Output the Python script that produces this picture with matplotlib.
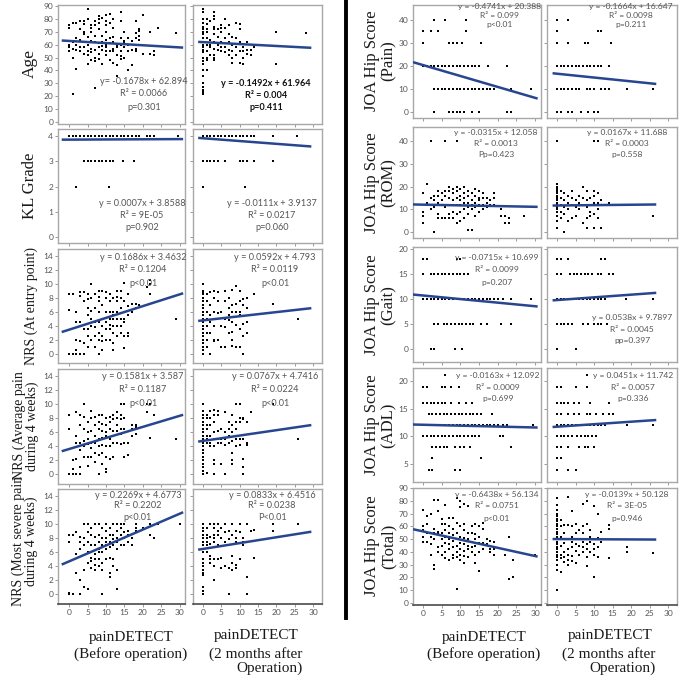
import matplotlib
matplotlib.use("Agg")
import matplotlib.pyplot as plt

# ---------------- DATA ----------------
# x -> list of y  (painDETECT score -> outcome)
age_pre = {0: [75, 73, 58, 55, 60], 1: [77, 57, 50, 62, 22], 2: [77, 60, 65, 41, 56],
           3: [78, 55, 58, 64, 72], 4: [76, 68, 70, 58, 53, 62, 78], 5: [88, 80, 66, 60, 55, 52, 45],
           6: [73, 70, 63, 57, 54, 48, 75], 7: [78, 75, 67, 56, 50, 47, 26, 62],
           8: [82, 80, 77, 72, 58, 53, 49, 61], 9: [81, 67, 62, 56, 45, 59],
           10: [78, 75, 70, 64, 60, 58, 55, 52, 83], 11: [84, 77, 65, 61, 55, 48],
           12: [80, 73, 66, 57, 55, 46, 62], 13: [60, 58, 52, 44, 36], 14: [85, 78, 65, 60, 55, 51, 49],
           15: [70, 62, 58, 50, 63], 16: [65, 60, 55, 40], 17: [63, 44, 56], 18: [78, 69, 65, 57, 55],
           19: [72, 71, 67, 64], 20: [83, 53], 22: [70, 53], 23: [55, 52], 24: [73], 29: [69]}
age_post = {0: [88, 85, 80, 77, 74, 72, 70, 68, 65, 62, 60, 58, 56, 54, 50, 47, 45, 40, 36, 30, 27, 25, 23, 22],
            1: [80, 76, 72, 70, 65, 60, 55, 50, 48, 40], 2: [78, 64, 60, 58, 52],
            3: [85, 82, 80, 74, 72, 68, 62, 57, 52, 50, 48], 4: [72, 66, 60, 56],
            5: [75, 73, 70, 62, 58, 55], 6: [80, 73, 65, 58, 54], 7: [75, 68, 62, 56, 52],
            8: [66, 60, 55, 50, 46], 9: [77, 65, 58, 52], 10: [76, 72, 62, 55, 46],
            11: [58, 55, 50, 45], 12: [62, 56, 53], 13: [56, 52], 14: [58], 20: [70, 45], 28: [69]}

# y -> list of x  (discrete outcome levels)
kl_pre = {4: [0, 1, 2, 3, 4, 5, 6, 7, 8, 9, 10, 11, 12, 13, 14, 15, 16, 17, 18, 19, 21, 22, 23, 29.5],
          3: [4, 5, 6, 7, 8, 9, 10, 11, 12, 14.5, 17.5], 2: [2, 10.7]}
kl_post = {4: [0, 1, 2, 3, 4, 5, 6, 7, 8, 9, 10, 11, 12, 13, 14, 19, 25.5],
           3: [0, 1, 2, 3, 4, 6, 10, 11, 12, 14, 19], 2: [0, 11.5]}

nrs_entry_pre = {0: [0, 6.3, 8.5], 1: [0, 8.5], 2: [0, 0.5, 2, 6, 4.5], 3: [0, 1.8, 4.5, 8.8, 8.3],
                 4: [0, 3.5, 4.2, 7.5, 8.8, 1.5], 5: [1, 2.5, 3.5, 5.5, 6.5, 7.8, 8.5],
                 6: [2, 4, 5, 6.2, 8, 10], 7: [1, 2.5, 3.8, 4.5, 6.5, 8.5],
                 8: [0, 2, 3, 4.5, 6, 7.5, 9, 8.2], 9: [0.5, 2.5, 4, 5, 7, 9, 1.8],
                 10: [2, 3.5, 4.5, 6, 8, 8.8, 5.2], 11: [2, 3.5, 5, 6, 7.5, 8.5, 4.2],
                 12: [0.5, 1.5, 3, 4, 5.5, 6, 8, 5], 13: [2.5, 4, 5, 6, 7.5, 9, 8.2],
                 14: [3, 4, 5, 6.5, 8, 9, 5.8], 15: [2.5, 4.5, 5, 6, 7.5, 10.2, 0.8],
                 16: [2.5, 3, 6.8, 8.5, 5.6], 17: [6, 7.2], 18: [7.2, 6.5], 19: [7],
                 21: [9.6], 22: [10, 8.6, 10.5], 29: [5]}
nrs_entry_post = {0: [10, 9, 8.8, 8.5, 8, 7.5, 7, 6.5, 6, 5.5, 5, 4.5, 4, 3.5, 3, 2.5, 2, 1.5, 1, 0.5, 0],
                  1: [8.5, 7.5, 6, 5, 4, 3, 2, 1], 2: [8.8, 7, 5.5, 4.5, 3, 0],
                  3: [9, 8, 6, 5, 4, 2, 1.8], 4: [8.8, 7.5, 5.8, 2], 5: [6, 4, 1],
                  6: [9, 7.5, 5, 3.8, 1], 7: [8, 6.5, 5.5, 4.8, 3], 8: [9.2, 7, 6, 4.5, 3.2, 2, 1.2],
                  9: [9.7, 7.2, 6, 4.2, 1], 10: [9, 7.5, 6, 5.5, 3.5, 1], 11: [7.8, 7, 4.3, 2.5, 0],
                  12: [8, 6.5, 4.5, 3], 14: [8.6], 19: [7.2], 26: [5]}

nrs_avg_pre = {0: [0, 6.5, 8.5], 1: [0, 0.8, 2], 2: [0, 4.5, 5.5, 8.8, 2.2], 3: [1, 3.5, 4.5, 7, 8.5, 0],
               4: [2.5, 4, 4.8, 6.5, 8.2, 10], 5: [1.2, 2.5, 4.3, 5, 6, 7.5], 6: [2.5, 3.8, 4.5, 6.2, 8, 9],
               7: [1.8, 3, 4.5, 5.5, 7, 8.2], 8: [0, 2.8, 4, 5, 6.5, 7.5, 8.5],
               9: [1.5, 3, 4.2, 5.2, 6.2, 7.2, 8.5], 10: [0.8, 2.5, 4, 5.5, 6, 7, 8, 0.3],
               11: [2.2, 4, 5, 6.5, 7.5, 8.2], 12: [2.5, 4.5, 5.5, 6.2, 7.8, 8.5],
               13: [4.5, 6.2, 7, 8, 8.8], 14: [4.3, 5.8, 6.5, 7.8, 8.5, 10], 15: [2.5, 4.5, 6.5, 8, 10],
               16: [2.8, 4.5], 17: [5.5, 6.5, 7], 18: [5.8, 6.8, 7], 21: [8.8, 10], 22: [5.2, 10],
               23: [8.5], 29: [5]}
nrs_avg_post = {0: [10, 9, 8.5, 8, 7.5, 7, 6.5, 6, 5.5, 5, 4.5, 4, 3.5, 3, 2.5, 2, 1.5, 1, 0.5, 0],
                1: [8.5, 8, 7, 6.5, 5.5, 5, 4.5, 0.2], 2: [9, 8, 7, 5.5, 4.5, 4],
                3: [9.2, 8.5, 7.5, 6, 5, 4, 2, 1.5, 0], 4: [9, 8.5, 6.2, 5, 4.5], 5: [6.5, 5, 4.5, 1.5],
                6: [8.8, 6, 5, 4.2, 0], 7: [7.5, 6.5, 5.5, 4.5], 8: [8.5, 7, 6, 4.8, 3, 2, 1.5],
                9: [10, 7.5, 6.5, 5, 4], 10: [10, 8, 7.5, 5, 4.2], 11: [8, 7.8, 5, 2.2, 1, 0],
                12: [7.5, 4.5, 4.2], 13: [8.8], 19: [10], 26: [5]}

nrs_sev_pre = {0: [0, 0.2, 7.5, 8.5], 1: [8.5, 0], 2: [3, 5.8, 8.8], 3: [0, 6.5, 7.5, 8.2, 2],
               4: [1, 3.5, 7, 8, 10], 5: [0.8, 4.5, 6, 7.5, 8.8, 10], 6: [3.8, 4.8, 5.2, 6, 7, 8.5, 9.5],
               7: [3.5, 4.2, 5, 5.8, 7, 8.2, 10], 8: [4, 5, 6, 6.5, 7.5, 8.5, 10],
               9: [0, 3.5, 4.5, 6, 7, 8, 9.5], 10: [5, 6.5, 7, 7.5, 8, 9, 10],
               11: [2.5, 3, 5.2, 6.8, 7.5, 8.5, 9.5], 12: [4, 5, 7, 7.8, 8.5, 10],
               13: [0.7, 3.5, 6.5, 7.5, 8, 9, 10], 14: [7, 7.8, 8.5, 9.5, 10], 15: [7, 8, 8.8, 10],
               16: [7.5, 8.5, 9], 17: [7, 8], 18: [9, 9.5, 10], 20: [9.5], 22: [8.5, 10], 23: [8],
               24: [10], 30: [10]}
nrs_sev_post = {0: [10, 9.5, 9, 8.5, 8, 7.5, 7, 6.5, 6, 5, 4.5, 4, 3.5, 3, 2.8, 1, 0.5, 0],
                1: [9.5, 8.5, 8, 7.5, 7, 6], 2: [10, 8.2, 7.2, 5.5, 5, 4.5],
                3: [10, 9.5, 8.5, 8, 7.5, 5, 4, 2], 4: [10, 9, 8.5, 7, 5], 5: [9.5, 8, 5.2, 3.8],
                6: [10, 8.8, 7.5, 4], 7: [9, 7.8, 3.8, 0], 8: [10, 8.5, 5.5, 4.5, 3.5],
                9: [9, 8, 7.5, 4.2, 3.8], 10: [10, 8.8, 5], 11: [8, 7.5, 7], 12: [10, 7.5, 2.5, 0],
                13: [9], 14: [9.2, 5.2], 19: [10, 9], 26: [10]}

pain_pre = {40: [3, 6, 11.5], 35: [0, 2, 4, 11.5], 30: [0, 7, 8, 9, 10.5, 15.5],
            20: [0, 1, 2, 3, 4, 5, 6, 7, 8, 9, 10, 11, 12, 13, 14, 15, 17.5, 22.5],
            10: [3, 4, 5, 6, 7, 8, 9, 10, 11, 12, 13, 14, 15, 16, 17, 18, 19, 23.5, 29],
            0: [3, 7, 8, 9, 10, 11, 13, 15, 22.5, 23.5]}
pain_post = {40: [0, 3], 35: [0, 11, 12], 30: [0, 3, 7.5, 8.5, 14.5],
             20: [0, 1, 2, 3, 4, 5, 6, 7, 8, 9, 10, 11, 12, 14],
             10: [0, 1, 2, 3, 4, 5, 6, 8, 9, 10, 12, 13, 14, 19, 26],
             0: [0, 1, 3, 4, 6.5, 8.5, 10, 11]}

rom_pre = {0: [4, 7, 9, 17], 1: [13, 21], 2: [10, 15, 40], 3: [0, 11, 14, 16], 4: [6, 8, 13, 16, 18],
           5: [6, 12, 14, 17], 6: [6, 11, 16, 18, 40], 7: [6, 8, 12, 15, 18, 20],
           8: [6, 9, 12, 14, 17, 19], 9: [4, 8, 12, 15, 18, 20, 40], 10: [5, 9, 12, 14, 16, 19],
           11: [6, 10, 13, 15, 17, 20], 12: [1, 8, 11, 13, 16, 18], 13: [1, 10, 12, 14, 17],
           14: [7, 11, 13, 16, 19], 15: [9, 12, 14, 15, 18], 16: [10, 12, 15, 17], 17: [11, 13, 15],
           18: [12, 14], 19: [15, 17, 12], 21: [10, 7], 22: [7, 4], 23: [4, 6], 27: [7]}
rom_post = {0: [2, 5, 7, 9, 10, 11, 12, 13, 14, 15, 16, 17, 18, 19, 20, 21, 40],
            1: [6, 9, 12, 15, 18], 2: [8, 11, 14, 17, 0], 3: [5, 10, 13, 16], 4: [6, 12, 15, 18],
            5: [7, 11, 14], 6: [10, 13, 16], 7: [12, 15, 20, 4], 8: [2, 6, 11, 14, 18],
            9: [7, 9, 12, 15], 10: [2, 8, 13, 16, 18, 40], 11: [6, 10, 13, 17, 40], 12: [2, 12, 14],
            14: [13], 19: [12], 26: [7]}

gait_pre = {18: [0, 1, 9, 10], 15: [0, 2, 3, 4, 5, 6, 7, 8, 9, 10, 11, 12],
            10: [0, 1, 2, 3, 4, 5, 6, 7, 8, 9, 10, 11, 12, 13, 14, 15, 16, 17, 18, 19, 20, 21.5, 23.5, 29],
            5: [3, 4, 5.5, 6.5, 7.5, 8.5, 9.5, 10.5, 11.5, 12.5, 13.5, 15.5, 17, 21, 23.5],
            0: [2, 3, 8.5, 10.5]}
gait_post = {18: [0, 1, 3, 12, 13], 15: [0, 1, 3.5, 4.5, 5.5, 6.5, 7.5, 8.5, 9.5, 11, 12, 14, 15],
             10: [0, 1, 2, 3, 4, 5, 6, 7, 8, 9, 10, 11, 12, 13, 18.5, 26],
             5: [0, 1, 2, 3, 4, 7, 8.5, 10, 11, 12, 13.5], 0: [0, 5]}

adl_pre = {21: [6], 19: [0, 1, 5, 6, 7.5, 9.5], 16: [0, 1, 2, 3, 4, 5, 6, 7.5, 9.5, 11.5, 13],
           14: [1.5, 2.5, 3.5, 4.5, 5.5, 6.5, 7.5, 8.5, 9.5, 10.5, 11.5, 12.5, 13.5, 14.5, 15.5, 18.5],
           12: [0, 1, 2, 3, 4, 5, 6, 7, 8, 9, 10, 11, 12, 13, 14, 15, 16, 17, 18, 19, 20, 21.5, 22.5, 29.5],
           10: [0, 1, 2, 3, 4, 5, 6, 7, 8, 9, 10, 11, 12, 13, 14, 15, 20.5, 21.5],
           8: [2.5, 3.5, 4.5, 5.5, 6.5, 8.5, 10, 11, 12.5, 23.5], 6: [2.5, 15.5], 4: [1.5, 2.5, 8.5, 10]}
adl_post = {21: [8], 19: [0, 1, 5, 8], 16: [0, 1, 2, 3, 4.5, 6, 9, 14],
            14: [0, 1, 3, 4.5, 6, 8, 9, 10.5, 12.5, 14, 15],
            12: [0, 1, 2, 3, 4, 5, 6, 7, 8, 9, 10, 11, 12, 13, 19, 26],
            10: [0, 1, 2, 3, 4, 5.5, 6.5, 7.5, 8.5, 9.5, 10.5],
            8: [0, 1, 3, 6, 7.5, 8.5, 10], 6: [0, 1], 4: [0, 3, 5]}

tot_pre = {0: [48, 52, 57, 60, 73], 1: [48, 55, 62, 68], 2: [38, 46, 52, 70],
           3: [27, 30, 50, 55, 58, 81], 4: [40, 44, 54, 56, 72, 81], 5: [38, 45, 50, 55, 62, 66],
           6: [35, 40, 47, 52, 57, 62, 77], 7: [34, 42, 46, 50, 55, 60, 67],
           8: [35, 38, 44, 49, 53, 58, 67], 9: [11, 36, 40, 45, 50, 55, 63, 82],
           10: [34, 38, 42, 47, 52, 60, 75, 80], 11: [31, 37, 41, 46, 51, 57, 62, 78],
           12: [36, 42, 45, 50, 55, 76], 13: [40, 44, 48, 55, 60], 14: [31, 38, 45, 50, 54, 62],
           15: [25, 40, 47, 52, 60], 16: [42, 47, 58, 63], 17: [46, 50], 18: [40, 42, 49],
           19: [38, 42, 48], 22: [38], 23: [19, 52], 24: [20, 34], 30: [38]}
tot_post = {0: [10, 26, 30, 34, 36, 38, 40, 42, 44, 46, 48, 50, 52, 54, 56, 58, 60, 62, 64, 66, 68, 70, 73, 77, 82],
            1: [24, 35, 38, 45, 52, 60, 65], 2: [32, 36, 40, 47, 55, 61],
            3: [30, 34, 38, 42, 50, 61, 83], 4: [33, 37, 44, 48, 52, 60, 72], 5: [31, 41, 46, 55, 62],
            6: [38, 45, 50, 57], 7: [40, 44, 48, 55, 60, 78], 8: [29, 36, 42, 46, 50, 62, 80],
            9: [40, 48, 52, 57], 10: [20, 38, 42, 46, 76], 11: [36, 44, 51, 70], 12: [48, 56],
            14: [35, 58, 61], 19: [40, 44], 26: [39]}

# regression equations (slope, intercept) and annotation texts
fits_left = [(-0.1678, 62.894), (-0.1492, 61.964), (0.0007, 3.8588), (-0.0111, 3.9137),
             (0.1686, 3.4632), (0.0592, 4.793), (0.1581, 3.587), (0.0767, 4.7416),
             (0.2269, 4.6773), (0.0833, 6.4516)]
fits_right = [(-0.4741, 20.388), (-0.1664, 16.647), (-0.0315, 12.058), (0.0167, 11.688),
              (-0.0715, 10.699), (0.0538, 9.7897), (-0.0163, 12.092), (0.0451, 11.742),
              (-0.6438, 56.134), (-0.0139, 50.128)]
texts_left = [["y= -0.1678x + 62.894", "R² = 0.0066", "p=0.301"],
              ["y = -0.1492x + 61.964", "R² = 0.004", "p=0.411"],
              ["y = 0.0007x + 3.8588", "R² = 9E-05", "p=0.902"],
              ["y = -0.0111x + 3.9137", "R² = 0.0217", "p=0.060"],
              ["y = 0.1686x + 3.4632", "R² = 0.1204", "p<0.01"],
              ["y = 0.0592x + 4.793", "R² = 0.0119", "p<0.01"],
              ["y = 0.1581x + 3.587", "R² = 0.1187", "p<0.01"],
              ["y = 0.0767x + 4.7416", "R² = 0.0224", "p<0.01"],
              ["y = 0.2269x + 4.6773", "R² = 0.2202", "p<0.01"],
              ["y = 0.0833x + 6.4516", "R² = 0.0238", "P<0.01"]]
texts_right = [["y = -0.4741x + 20.388", "R² = 0.099", "p<0.01"],
               ["y = -0.1664x + 16.647", "R² = 0.0098", "p=0.211"],
               ["y = -0.0315x + 12.058", "R² = 0.0013", "Pp=0.423"],
               ["y = 0.0167x + 11.688", "R² = 0.0003", "p=0.558"],
               ["y = -0.0715x + 10.699", "R² = 0.0099", "p=0.207"],
               ["y = 0.0538x + 9.7897", "R² = 0.0045", "pp=0.397"],
               ["y = -0.0163x + 12.092", "R² = 0.0009", "p=0.699"],
               ["y = 0.0451x + 11.742", "R² = 0.0057", "p=0.336"],
               ["y = -0.6438x + 56.134", "R² = 0.0751", "p<0.01"],
               ["y = -0.0139x + 50.128", "R² = 3E-05", "p=0.946"]]

ylabels_left = ["Age", "KL Grade", "NRS (At entry point)",
                "NRS (Average pain\nduring 4 weeks)", "NRS (Most severe pain\nduring 4 weeks)"]
ylabels_right = ["JOA Hip Score\n(Pain)", "JOA Hip Score\n(ROM)", "JOA Hip Score\n(Gait)",
                 "JOA Hip Score\n(ADL)", "JOA Hip Score\n(Total)"]
xlabel_before = "painDETECT\n(Before operation)"
xlabel_after_top = "painDETECT"
xlabel_after = "(2 months after\nOperation)"
xticks = [0, 5, 10, 15, 20, 25, 30]

# ---------------- LAYOUT ----------------
W, H = 685, 686
fig = plt.figure(figsize=(W / 100, H / 100), dpi=100)
fig.patch.set_facecolor('white')
SERIF = 'Liberation Serif'
SANS = 'Lato'
GREY = '#555555'
LINE = '#27468f'


def cols(d):
    xs, ys = [], []
    for x, yl in d.items():
        for y in yl:
            xs.append(x); ys.append(y)
    return xs, ys


def rows(d):
    xs, ys = [], []
    for y, xl in d.items():
        for x in xl:
            xs.append(x); ys.append(y)
    return xs, ys


def px_axes(x0, y0, x1, y1):
    return fig.add_axes([x0 / W, 1 - y1 / H, (x1 - x0) / W, (y1 - y0) / H])


left_cols = [(58, 185), (193, 322)]
left_rows = [(5, 124), (129, 243), (249, 363), (369, 484), (489, 604)]
right_cols = [(413, 541), (547, 677)]
right_rows = [(5, 118), (127, 238), (247, 362), (368, 482), (488, 605)]

left_data = [cols(age_pre), cols(age_post), rows(kl_pre), rows(kl_post),
             cols(nrs_entry_pre), cols(nrs_entry_post), cols(nrs_avg_pre), cols(nrs_avg_post),
             cols(nrs_sev_pre), cols(nrs_sev_post)]
right_data = [rows(pain_pre), rows(pain_post), cols(rom_pre), cols(rom_post),
              rows(gait_pre), rows(gait_post), rows(adl_pre), rows(adl_post),
              cols(tot_pre), cols(tot_post)]

left_ylim = [(-1.6, 90.8), (-0.24, 4.28), (-1.3, 15.0), (-1.4, 15.0), (-1.4, 15.0)]
left_yticks = [list(range(0, 91, 10)), [0, 1, 2, 3, 4], list(range(0, 15, 2)),
               list(range(0, 15, 2)), list(range(0, 15, 2))]
right_ylim = [(-2.6, 46.5), (-2.6, 46.2), (-2.6, 20.4), (1.75, 22.35), (-1.6, 90.2)]
right_yticks = [[0, 10, 20, 30, 40], [0, 10, 20, 30, 40], [0, 5, 10, 15, 20],
                [5, 10, 15, 20], list(range(0, 91, 10))]

# annotation positions in pixels: (center x, [y line1, y line2, y line3])
ann_left = [(144, [81, 94, 107]), (266, [84, 96, 108]),
            (142, [204, 215, 227]), (272, [204, 215, 227]),
            (143, [257, 269, 283]), (275, [257, 269, 283]),
            (143, [376, 389, 403]), (275, [376, 389, 403]),
            (138, [495, 506, 518]), (272, [495, 506, 518])]
ann_right = [(500, [7, 16, 25]), (631, [7, 16, 25]),
             (496, [133, 144, 154]), (627, [133, 144, 154]),
             (497, [257, 269, 282]), (632, [317, 329, 340]),
             (498, [376, 388, 399]), (633, [376, 388, 399]),
             (497, [495, 506, 518]), (627, [495, 506, 518])]

line_x_left = [(-2.0, 30.9), (-1.3, 29.5)]
line_x_right = [(-2.7, 30.7), (-1.2, 26.8)]


def style_axes(ax, ci, bottom_row, ylim, yticks, xlim):
    ax.set_xlim(*xlim)
    ax.set_ylim(*ylim)
    ax.set_xticks(xticks)
    ax.set_yticks(yticks)
    for s in ax.spines.values():
        s.set_color('#a8a8a8')
        s.set_linewidth(1.0)
    ax.tick_params(axis='both', direction='out', length=2, width=0.6, color='#8a8a8a',
                   labelsize=6.0, labelcolor=GREY, pad=1.5)
    if ci == 1:
        ax.tick_params(axis='y', labelleft=False)
    else:
        for t in ax.get_yticklabels():
            t.set_fontfamily(SANS)
    if bottom_row:
        ax.spines['bottom'].set_color('#4a4a4a')
        ax.spines['bottom'].set_linewidth(1.2)
        for t in ax.get_xticklabels():
            t.set_fontfamily(SANS)
    else:
        ax.tick_params(axis='x', labelbottom=False)


def draw_half(cols_px, rows_px, data, fits, texts, ann, ylims, ytks, line_x, fsz, xlims, bold_k):
    for ri, (y0, y1) in enumerate(rows_px):
        for ci, (x0, x1) in enumerate(cols_px):
            k = ri * 2 + ci
            ax = px_axes(x0, y0, x1, y1)
            style_axes(ax, ci, ri == len(rows_px) - 1, ylims[ri], ytks[ri], xlims[ci])
            xs, ys = data[k]
            ax.scatter(xs, ys, s=4.6, marker='s', c='black', linewidths=0, zorder=3, clip_on=False)
            a, b = fits[k]
            lx = list(line_x[ci])
            ax.plot(lx, [a * v + b for v in lx], color=LINE, lw=1.8, zorder=4, solid_capstyle='butt')
            cx, pys = ann[k]
            bold = (k == bold_k)
            for txt, py in zip(texts[k], pys):
                ax.text((cx - x0) / (x1 - x0), (y1 - py) / (y1 - y0), txt, transform=ax.transAxes,
                        ha='center', va='center', fontsize=fsz, family=SANS,
                        color='#111111' if bold else GREY,
                        fontweight='bold' if bold else 'normal', zorder=5)


draw_half(left_cols, left_rows, left_data, fits_left, texts_left, ann_left,
          left_ylim, left_yticks, line_x_left, 6.6, [(-3.0, 31.4), (-2.7, 32.4)], 1)
draw_half(right_cols, right_rows, right_data, fits_right, texts_right, ann_right,
          right_ylim, right_yticks, line_x_right, 6.1, [(-2.7, 31.6), (-2.7, 32.4)], -1)

# y labels
left_lab_pos = [(30, 64, 12.5), (30, 186, 12), (31, 306, 10), (26, 426, 10), (25, 541, 10)]
for lab, (x, y, fs) in zip(ylabels_left, left_lab_pos):
    fig.text(x / W, 1 - y / H, lab, rotation=90, ha='center', va='center', fontsize=fs,
             family=SERIF, color='#1a1a1a', linespacing=0.95, multialignment='center')
right_lab_y = [61, 183, 305, 425, 546]
for lab, y in zip(ylabels_right, right_lab_y):
    fig.text(380 / W, 1 - y / H, lab, rotation=90, ha='center', va='center', fontsize=12,
             family=SERIF, color='#1a1a1a', linespacing=1.05, multialignment='center')

# x labels
for cx in (131, 484):
    fig.text(cx / W, 1 - 646 / H, xlabel_before, ha='center', va='center', fontsize=11,
             family=SERIF, color='#1a1a1a', linespacing=1.25)
for cx_top, cx in ((256, 256), (610, 609)):
    fig.text(cx_top / W, 1 - 636 / H, xlabel_after_top, ha='center', va='center', fontsize=11,
             family=SERIF, color='#1a1a1a')
    fig.text(cx / W, 1 - 647 / H, xlabel_after, ha='center', va='top', fontsize=11,
             family=SERIF, color='#1a1a1a', linespacing=1.05, multialignment='right')

# vertical divider
fig.add_artist(plt.Line2D([346 / W, 346 / W], [1 - 0 / H, 1 - 618 / H], color='black', lw=2.8,
                          transform=fig.transFigure))

fig.savefig('out.png', dpi=100, facecolor='white')
